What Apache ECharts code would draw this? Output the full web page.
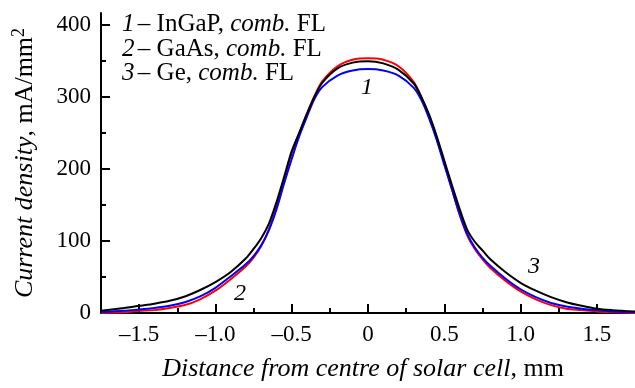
<!DOCTYPE html>
<html>
<head>
<meta charset="utf-8">
<script src="https://cdn.jsdelivr.net/npm/echarts@6/dist/echarts.min.js"></script>
<style>
html,body{margin:0;padding:0;background:#fff;}
#chart{width:635px;height:388px;}
</style>
</head>
<body>
<div id="chart"></div>
<script>
const xs = [-1.75,-1.6,-1.5,-1.4,-1.3,-1.2,-1.1,-1.0,-0.9,-0.8,-0.75,-0.7,-0.65,-0.6,-0.55,-0.5,-0.45,-0.4,-0.35,-0.3,-0.2,-0.1,0,0.1,0.2,0.3,0.35,0.4,0.45,0.5,0.55,0.6,0.65,0.7,0.75,0.8,0.9,1.0,1.1,1.2,1.3,1.4,1.5,1.6,1.75];
const inGaP = [1,3,5,7,10,15,23,35,51,68,79,94,115,144,180,214,246,273,298,314,330,337,339,337,330,313,296,271,241,206,172,138,110,91,77,66,48,33,22,14,9,6,4,2,1];
const gaAs = [0,1,3,4,7,11,19,31,47,65,77,93,116,147,185,222,250,277,302,322,343,352,354,352,343,321,300,274,243,208,172,137,108,89,75,63,45,30,19,11,6,4,2,1,0];
const ge = [3,7,10,13,17,23,32,43,57,76,89,104,124,154,189,225,251,277,301,320,340,348,350,347,338,319,300,276,246,212,178,145,116,99,87,75,57,42,31,22,15,10,6,4,2];
const xMajor = [-1.5,-1.0,-0.5,0,0.5,1.0,1.5];
const xMinor = [-1.25,-0.75,-0.25,0.25,0.75,1.25];
const yMajor = [0,100,200,300,400];
const yMinor = [50,150,250,350];

const FONT = '"Liberation Serif","Times New Roman",serif';
const pairs = v => xs.map((x,i)=>[x,v[i]]);
const fmtX = v => {
  if (Math.abs(v) < 1e-9) return '0';
  const s = Math.abs(v).toFixed(1);
  return (v < 0 ? '\u2013' : '') + s;
};
const chart = echarts.init(document.getElementById('chart'));
function tick(len, vals){
  return {show:true,inside:true,length:len,lineStyle:{color:'#000',width:2},customValues:vals};
}
function xAx(extra){
  return Object.assign({type:'value',min:-1.75,max:1.75,position:'bottom',
    axisLine:{show:false,onZero:false},axisTick:{show:false},axisLabel:{show:false},splitLine:{show:false}},extra);
}
function yAx(extra){
  return Object.assign({type:'value',min:0,max:417,position:'left',offset:0,
    axisLine:{show:false,onZero:false},axisTick:{show:false},axisLabel:{show:false},splitLine:{show:false}},extra);
}
chart.setOption({
  animation:false,
  backgroundColor:'#fff',
  grid:{left:101,right:0,top:13,bottom:75},
  xAxis:[
    xAx({axisLine:{show:true,onZero:false,lineStyle:{color:'#000',width:2}},
      axisTick:tick(9,xMajor),
      axisLabel:{show:true,customValues:xMajor,formatter:fmtX,color:'#000',fontFamily:FONT,fontSize:23,margin:10}}),
    xAx({axisTick:tick(5,xMinor)})
  ],
  yAxis:[
    yAx({axisLine:{show:true,onZero:false,lineStyle:{color:'#000',width:2}},
      axisTick:tick(9,yMajor),
      axisLabel:{show:true,customValues:yMajor,color:'#000',fontFamily:FONT,fontSize:23,margin:10}}),
    yAx({axisTick:tick(5,yMinor)})
  ],
  series:[
    {name:'GaAs',type:'line',data:pairs(gaAs),showSymbol:false,smooth:0.3,lineStyle:{color:'#ff0000',width:2}},
    {name:'InGaP',type:'line',data:pairs(inGaP),showSymbol:false,smooth:0.3,lineStyle:{color:'#0000ff',width:2}},
    {name:'Ge',type:'line',data:pairs(ge),showSymbol:false,smooth:0.3,lineStyle:{color:'#000000',width:2}}
  ],
  graphic:[
    {type:'text',left:122,top:12,style:{fill:'#000',
      rich:{i:{fontStyle:'italic',fontFamily:FONT,fontSize:25,lineHeight:24.5},n:{fontFamily:FONT,fontSize:25,lineHeight:24.5}},
      text:'{i|1} {n|\u2013 InGaP, }{i|comb.}{n| FL}\n{i|2} {n|\u2013 GaAs, }{i|comb.}{n| FL}\n{i|3} {n|\u2013 Ge, }{i|comb.}{n| FL}'}},
    {type:'text',x:25,y:163,rotation:Math.PI/2,style:{fill:'#000',align:'center',verticalAlign:'middle',
      rich:{i:{fontStyle:'italic',fontFamily:FONT,fontSize:26,lineHeight:30},n:{fontFamily:FONT,fontSize:26,lineHeight:30},
            s:{fontFamily:FONT,fontSize:18,lineHeight:30,verticalAlign:'top',padding:[0,0,10,0]}},
      text:'{i|Current density}{n|, mA/mm}{s|2}'}},
    {type:'text',x:363,y:369,style:{fill:'#000',align:'center',verticalAlign:'middle',
      rich:{i:{fontStyle:'italic',fontFamily:FONT,fontSize:26},n:{fontFamily:FONT,fontSize:26}},
      text:'{i|Distance from centre of solar cell}{n|, mm}'}},
    {type:'text',x:367,y:88,style:{fill:'#000',align:'center',verticalAlign:'middle',font:'italic 24px '+FONT,text:'1'}},
    {type:'text',x:240,y:294,style:{fill:'#000',align:'center',verticalAlign:'middle',font:'italic 24px '+FONT,text:'2'}},
    {type:'text',x:534,y:267,style:{fill:'#000',align:'center',verticalAlign:'middle',font:'italic 24px '+FONT,text:'3'}}
  ]
});
</script>
</body>
</html>
